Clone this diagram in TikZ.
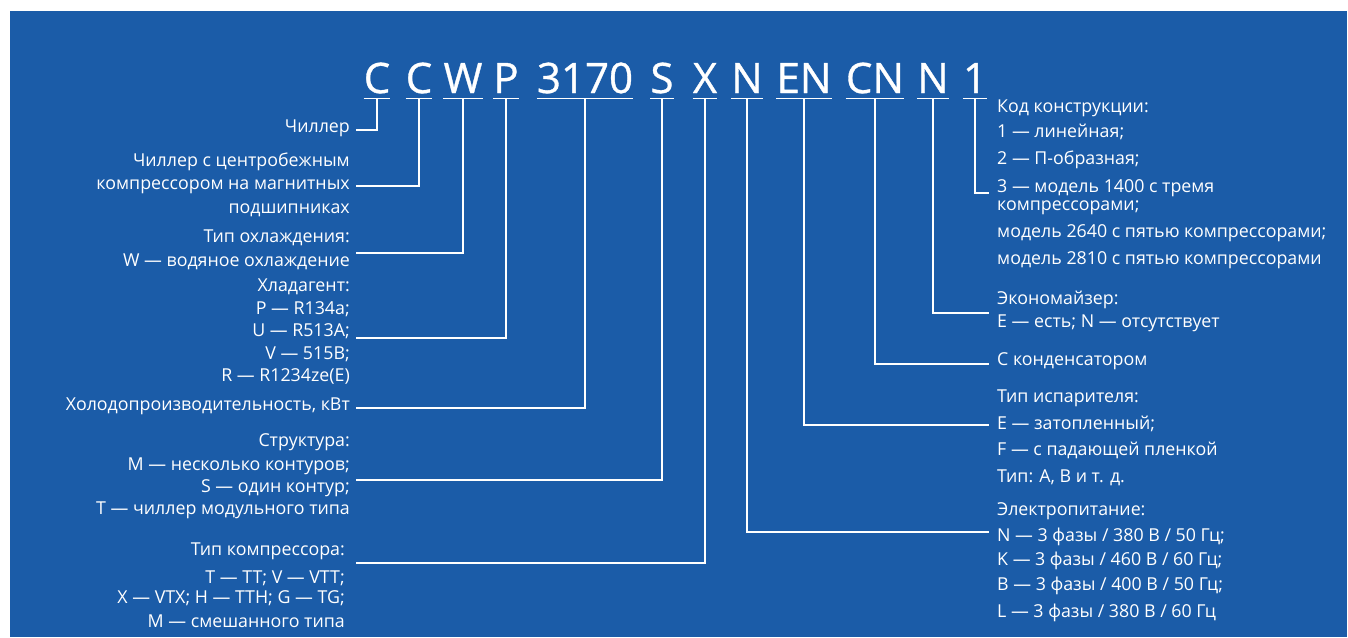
\documentclass[tikz,border=0pt]{standalone}
\usepackage{fontspec}
\setmainfont{Open Sans}
\newfontfamily\codefont[FakeBold=0.8]{Open Sans}
\definecolor{bg}{RGB}{27,92,168}
\tikzset{
  codetxt/.style={text=white, font=\codefont\fontsize{42}{42}\selectfont, inner xsep=0pt, inner ysep=5pt, anchor=base},
  uline/.style={draw=white, line width=1.4pt},
  conn/.style={draw=white, line width=1.3pt},
  lbl/.style={text=white, font=\fontsize{17.8}{18}\selectfont, inner sep=0pt},
  lft/.style={lbl, anchor=mid east},
  rgt/.style={lbl, anchor=mid west}
}
\begin{document}
\begin{tikzpicture}[x=1pt,y=-1pt]
\useasboundingbox (0,0) rectangle (1348,637);
\fill[white] (0,0) rectangle (1348,637);
\fill[bg] (10,11) rectangle (1347,637);

% code letters
\node[codetxt] (c1) at (377,93) {C};
\node[codetxt] (c2) at (419,93) {C};
\node[codetxt] (c3) at (463,93) {W};
\node[codetxt] (c4) at (506,93) {P};
\node[codetxt] (c5) at (585,93) {3170};
\node[codetxt] (c6) at (662,93) {S};
\node[codetxt] (c7) at (705,93) {X};
\node[codetxt] (c8) at (747,93) {N};
\node[codetxt] (c9) at (804,93) {EN};
\node[codetxt] (c10) at (875,93) {CN};
\node[codetxt] (c11) at (933,93) {N};
\node[codetxt] (c12) at (975,93) {1};
\foreach \n in {c1,c2,c3,c4,c5,c6,c7,c8,c9,c10,c11,c12}
  \draw[uline] (\n.south west) -- (\n.south east);

% free ends of connectors
\coordinate (e1) at (356,130);
\coordinate (e2) at (356,186);
\coordinate (e3) at (356,253);
\coordinate (e4) at (356,338);
\coordinate (e5) at (356,408);
\coordinate (e6) at (356,480);
\coordinate (e7) at (356,563);
\coordinate (e8) at (989,532);
\coordinate (e9) at (989,425);
\coordinate (e10) at (989,364);
\coordinate (e11) at (989,313);
\coordinate (e12) at (989,193);
\foreach \i in {1,...,12}
  \draw[conn] (c\i.south) |- (e\i);

% left labels
\node[lft] (a1) at (350,130) {Чиллер};
\node[lft] (b1) at (350,164) {Чиллер с центробежным};
\node[lft] (b2) at (350,187) {компрессором на магнитных};
\node[lft] (b3) at (350,211) {подшипниках};
\node[lft] (d1) at (350,240) {Тип охлаждения:};
\node[lft] (d2) at (350,264) {W — водяное охлаждение};
\node[lft] (f1) at (350,289) {Хладагент:};
\node[lft] (f2) at (350,312) {P — R134a;};
\node[lft] (f3) at (350,334) {U — R513A;};
\node[lft] (f4) at (350,357) {V — 515B;};
\node[lft] (f5) at (350,379) {R — R1234ze(E)};
\node[lft] (g1) at (350,408) {Холодопроизводительность, кВт};
\node[lft] (h1) at (350,444) {Структура:};
\node[lft] (h2) at (350,468) {M — несколько контуров;};
\node[lft] (h3) at (350,490) {S — один контур;};
\node[lft] (h4) at (350,512) {T — чиллер модульного типа};
\node[lft] (k1) at (345,553) {Тип компрессора:};
\node[lft] (k2) at (345,581) {T — TT; V — VTT;};
\node[lft] (k3) at (345,601) {X — VTX; H — TTH; G — TG;};
\node[lft] (k4) at (345,625) {M — смешанного типа};

% right labels
\node[rgt] (m1) at (997,110) {Код конструкции:};
\node[rgt] (m2) at (997,135) {1 — линейная;};
\node[rgt] (m3) at (997,162) {2 — П-образная;};
\node[rgt] (m4) at (997,190) {3 — модель 1400 с тремя};
\node[rgt] (m5) at (997,208) {компрессорами;};
\node[rgt] (m6) at (997,235) {модель 2640 с пятью компрессорами;};
\node[rgt] (m7) at (997,262) {модель 2810 с пятью компрессорами};
\node[rgt] (n1) at (997,302) {Экономайзер:};
\node[rgt] (n2) at (997,325) {E — есть; N — отсутствует};
\node[rgt] (p1) at (997,363) {С конденсатором};
\node[rgt] (q1) at (997,400) {Тип испарителя:};
\node[rgt] (q2) at (997,427) {E — затопленный;};
\node[rgt] (q3) at (997,453) {F — с падающей пленкой};
\node[rgt] (q4) at (997,480) {Тип: A, B и т. д.};
\node[rgt] (r1) at (997,513) {Электропитание:};
\node[rgt] (r2) at (997,539) {N — 3 фазы / 380 В / 50 Гц;};
\node[rgt] (r3) at (997,563) {K — 3 фазы / 460 В / 60 Гц;};
\node[rgt] (r4) at (997,588) {B — 3 фазы / 400 В / 50 Гц;};
\node[rgt] (r5) at (997,615) {L — 3 фазы / 380 В / 60 Гц};
\end{tikzpicture}
\end{document}
